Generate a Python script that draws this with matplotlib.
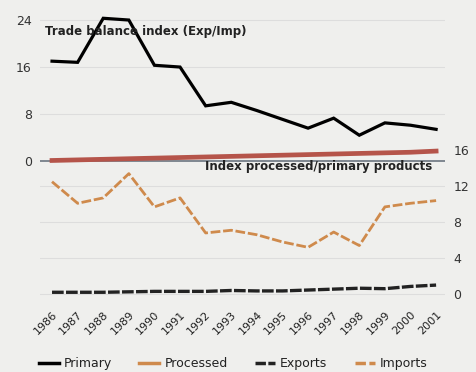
import numpy as np
import matplotlib.pyplot as plt

years = list(range(1986, 2002))
# trade balance index (left axis)
primary = [17.0, 16.8, 24.3, 24.0, 16.3, 16.0, 9.4, 10.0, 8.6, 7.1, 5.6, 7.3, 4.4, 6.5, 6.1, 5.4]
processed = [0.1, 0.2, 0.3, 0.4, 0.5, 0.6, 0.7, 0.8, 0.9, 1.0, 1.1, 1.2, 1.3, 1.4, 1.5, 1.7]
# index processed/primary products (right axis)
exports = [0.2, 0.2, 0.2, 0.25, 0.3, 0.3, 0.3, 0.4, 0.35, 0.35, 0.45, 0.55, 0.65, 0.6, 0.85, 1.0]
imports = [12.5, 10.1, 10.7, 13.4, 9.7, 10.7, 6.8, 7.1, 6.6, 5.8, 5.2, 6.9, 5.4, 9.7, 10.1, 10.4]

left_ticks = [0, 8, 16, 24]
right_ticks = [0, 4, 8, 12, 16]

bg = "#efefed"
fig = plt.figure(figsize=(4.76, 3.72), dpi=100, facecolor=bg)
ax = fig.add_axes([0.084, 0.180, 0.851, 0.793])
ax.set_facecolor(bg)
ax2 = ax.twinx()

ax.set_xlim(1985.53, 2001.35)
ax.set_ylim(-24.5, 25.7)
ax2.set_ylim(-1.22, 31.6)

for a in (ax, ax2):
    for s in a.spines.values():
        s.set_visible(False)

# faint gridlines
for v in left_ticks[1:]:
    ax.axhline(v, color="#dddddd", lw=0.8, zorder=0)
for v in right_ticks[:-1]:
    ax2.axhline(v, color="#dddddd", lw=0.8, zorder=0)
ax.axhline(0, color="#6b7580", lw=1.2, zorder=1)

ax.plot(years, primary, color="black", lw=2.3, solid_joinstyle="miter", zorder=3)
ax.plot(years, processed, color="#b5544a", lw=3.4, zorder=3)
ax2.plot(years, exports, color="#222222", lw=2.4, dashes=(3.5, 0.7), zorder=3)
ax2.plot(years, imports, color="#cf8a4c", lw=2.0, dashes=(3.5, 1.0), zorder=3)

ax.set_yticks(left_ticks)
ax.set_yticklabels([str(t) for t in left_ticks])
ax2.set_yticks(right_ticks)
ax2.set_yticklabels([str(t) for t in right_ticks])
ax.tick_params(axis="y", length=0, pad=6, labelsize=9, labelcolor="#333333")
ax2.tick_params(axis="y", length=0, pad=6, labelsize=9, labelcolor="#333333")

ax.set_xticks(years)
ax.set_xticklabels([str(y) for y in years], rotation=45, ha="right",
                   rotation_mode="anchor")
ax.tick_params(axis="x", length=0, pad=3, labelsize=8, labelcolor="#222222")

ax.text(1985.72, 22.1, "Trade balance index (Exp/Imp)", fontsize=8.5,
        fontweight="bold", color="#222222", va="center")
ax.text(2000.85, -0.9, "Index processed/primary products", fontsize=8.5,
        fontweight="bold", color="#222222", va="center", ha="right")

handles = [
    plt.Line2D([], [], color="black", lw=2.5),
    plt.Line2D([], [], color="#cf8a4c", lw=2.5),
    plt.Line2D([], [], color="#222222", lw=2.5, dashes=(3, 0.7)),
    plt.Line2D([], [], color="#cf8a4c", lw=2.5, dashes=(3, 1)),
]
fig.legend(handles, ["Primary", "Processed", "Exports", "Imports"],
           loc="lower center", bbox_to_anchor=(0.49, -0.025), ncol=4,
           frameon=False, fontsize=9, handlelength=1.6, handletextpad=0.4,
           columnspacing=2.2, labelcolor="#222222")

fig.savefig("out.png", dpi=100, facecolor=bg)
